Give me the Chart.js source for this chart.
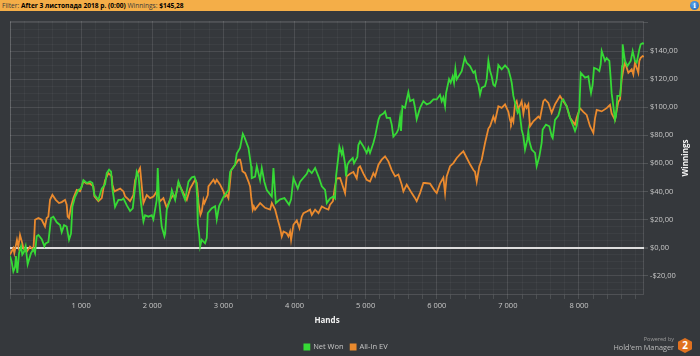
<!DOCTYPE html>
<html><head><meta charset="utf-8">
<script src="https://cdn.jsdelivr.net/npm/chart.js@4"></script>
<style>
html,body{margin:0;padding:0;background:#35383c;width:700px;height:356px;overflow:hidden;font-family:"Open Sans",sans-serif;}
#wrap{position:relative;width:700px;height:356px;}
#chart{position:absolute;left:0;top:0;}
#header{position:absolute;left:0;top:0;width:700px;height:11px;background:#f4ae48;font-size:6.6px;line-height:11px;color:#111;white-space:nowrap;}
#header .t{padding-left:2px;}
#header .n{color:#3a3a3a;font-weight:normal;}
#header b{font-weight:bold;color:#000;}
#info{position:absolute;left:690px;top:1px;width:9px;height:9px;border-radius:50%;background:radial-gradient(circle at 40% 35%,#5aa7ef,#1c5fb0);color:#fff;font:bold 7px/9px "DejaVu Serif",serif;text-align:center;}
#ytitle{position:absolute;left:655px;top:152px;width:60px;height:12px;line-height:12px;text-align:center;color:#f2f2f2;font-weight:bold;font-size:8px;transform:rotate(-90deg);}
#powered{position:absolute;right:26px;top:335px;font-size:5.5px;color:#9a9a9a;}
#hem{position:absolute;right:26px;top:342px;font-size:7.3px;color:#bdbdbd;white-space:nowrap;}
#hex{position:absolute;left:678px;top:338px;width:14px;height:15px;background:#e0711f;clip-path:polygon(50% 0,100% 25%,100% 75%,50% 100%,0 75%,0 25%);color:#fff;font:bold 10px/15px "Open Sans",sans-serif;text-align:center;}
</style></head>
<body><div id="wrap">
<canvas id="chart" width="700" height="356"></canvas>
<div id="header"><span class="t"><span class="n">Filter:</span> <b>After 3 листопада 2018 р. (0:00)</b> <span class="n">Winnings:</span> <b>$145,28</b></span></div>
<div id="info">i</div>
<div id="ytitle">Winnings</div>
<div id="powered">Powered by</div>
<div id="hem">Hold'em Manager</div>
<div id="hex">2</div>
</div>
<script>
const netWonHands = [0,23,47,70,84,103,127,155,173,197,220,248,265,295,330,352,375,400,446,483,502,540,577,610,657,704,727,760,797,830,858,877,914,961,999,1032,1079,1126,1159,1187,1243,1290,1337,1360,1393,1421,1440,1477,1524,1571,1595,1642,1688,1726,1759,1782,1806,1843,1876,1899,1946,1993,2016,2063,2077,2096,2133,2171,2181,2204,2251,2275,2322,2368,2439,2462,2509,2556,2593,2617,2631,2640,2659,2673,2696,2743,2767,2781,2837,2884,2907,2940,3001,3071,3095,3165,3188,3235,3273,3296,3353,3390,3399,3446,3470,3516,3540,3577,3610,3681,3704,3737,3798,3859,3924,3952,3985,4046,4079,4173,4196,4243,4290,4346,4384,4430,4454,4500,4547,4570,4584,4617,4631,4664,4678,4711,4725,4744,4772,4819,4837,4884,4898,4922,4969,5015,5039,5062,5109,5133,5180,5203,5250,5273,5297,5343,5367,5390,5437,5461,5484,5498,5517,5554,5578,5601,5625,5672,5695,5718,5765,5812,5859,5906,5953,6000,6046,6070,6093,6117,6131,6173,6196,6224,6243,6262,6281,6351,6393,6421,6468,6515,6538,6562,6585,6609,6632,6679,6702,6726,6749,6772,6796,6819,6843,6866,6913,6960,7007,7040,7054,7077,7124,7138,7161,7180,7194,7218,7241,7274,7288,7302,7335,7382,7405,7443,7475,7489,7536,7583,7616,7630,7649,7663,7710,7733,7756,7780,7827,7874,7920,7944,7967,7991,8005,8024,8085,8131,8155,8169,8192,8211,8258,8286,8305,8319,8366,8389,8427,8445,8459,8483,8506,8520,8539,8577,8591,8605,8614,8633,8647,8680,8727,8755,8787,8811,8848,8867,8895,8914];
const netWonValues = [-6,-10,-17,-14,-6,-18,-4,1,-5,-3,1,-12,-9,-4,-1,-4,8,9,6,1,3,4,21,22,18,16,11,16,15,5.5,10,29,36,41,42,48,46,47,46,37.6,34,42,45,53,55.5,54,42,29,34,34,35,30,26,28,43,54,51,31,18.6,23,22,23,20,34,56.7,34,15,8,10,27,34,41,34,47,37,34,47,50,50.5,47,36,17,10,0.7,5.5,3,7,24.5,28,29.5,20,29.5,36,41,54,59,67,71,81,78.6,71,58,49.5,50.5,58,48,56.7,46.7,41,36.4,56.7,31.7,34.3,35.2,30.5,34.3,49.5,42,47,52.6,55.5,53,56.7,49.5,43.6,41,31.7,35,36.4,35,50.7,65,72,66.4,70,59.5,50.7,59,61.4,63.8,60,64.5,73,75.7,72,67.4,71,67.4,74.5,79,91,94,95.5,97,92.4,92.4,87.6,79,81.7,84.3,92.6,83,100.7,99.5,105.5,110.7,104.3,105.5,99.5,91.4,99.5,104.3,102,103,105.5,105.5,108.8,104.3,107,100.7,110,120,117.4,122,117.4,127.4,119.8,125.7,135.2,131.6,129.3,124.5,125.7,118.6,116,109,113.8,115,119.8,133,126,122,116,115,119.8,130,127,129.8,127,120.7,117.4,108,98.3,96,98.3,90,84,79.3,69.8,77,83,75.7,69.8,67.4,58,65,74.5,84,87.6,86.4,79.3,78,85,91,94,98.3,104.3,105.5,100.7,92.4,86.4,83,86.4,94.8,98.3,124.5,121,122,114,110,116,128,127,125.7,130.5,140,133,135,133,121,110,100.7,91,93.6,108,108,116,129.3,144.8,137.6,133,129.3,133,140,133,131.7,141,144.8,145.5,145.28];
const allInEvHands = [0,47,61,98,117,141,173,188,235,281,328,342,352,399,446,492,516,539,563,596,643,689,727,774,797,811,830,858,891,938,985,1032,1079,1126,1173,1187,1243,1290,1313,1337,1384,1430,1440,1468,1548,1595,1619,1665,1688,1735,1759,1806,1829,1853,1876,1923,1970,2017,2064,2087,2111,2157,2204,2251,2298,2322,2368,2439,2486,2532,2603,2626,2640,2650,2678,2696,2720,2734,2781,2790,2861,2884,2907,2954,3001,3024,3048,3071,3085,3109,3165,3212,3235,3249,3268,3306,3353,3376,3390,3413,3428,3446,3517,3587,3657,3681,3728,3765,3798,3821,3845,3891,3915,3938,3952,3985,4032,4070,4102,4126,4173,4219,4243,4290,4337,4384,4430,4477,4500,4540,4570,4594,4641,4711,4734,4781,4828,4875,4898,4922,4969,5015,5062,5109,5133,5180,5226,5273,5320,5367,5414,5461,5508,5531,5578,5648,5695,5718,5765,5812,5836,5906,5976,6000,6046,6093,6117,6140,6187,6234,6281,6327,6374,6421,6468,6515,6538,6562,6599,6632,6679,6726,6749,6796,6819,6866,6913,6960,7007,7030,7044,7058,7077,7100,7124,7147,7194,7218,7241,7264,7288,7311,7358,7428,7452,7499,7522,7569,7616,7663,7733,7780,7827,7874,7944,7967,8014,8061,8108,8155,8202,8225,8249,8319,8389,8436,8459,8506,8553,8577,8600,8633,8647,8694,8741,8764,8787,8834,8848,8867,8895,8914];
const allInEvValues = [-5,-0.5,-4,5.5,0.7,9,3,-0.5,-3,0.7,-1.7,9,19.8,21,19.8,15,21,22,34,37.6,34,31.7,32.4,34,30.5,22,21,29.3,35.2,41,40,47,45.5,45.5,43.6,36.4,33,35.2,42,48,53,50.7,44.8,40,42,40,36.4,34.3,33,37.4,48,54.3,56.7,43.6,31.7,37.4,35.2,36.4,40,36.4,33,35.2,28.3,34.3,37.6,35.2,46,38.8,34,42,48.3,46,38.8,31.7,23.3,25.7,34,31.7,37.4,43.6,48.3,46,48.3,44.8,40,36.4,37.6,35.2,42,55,59,62.6,62.6,60,54.3,53,47,43.6,36.4,27,29.3,27,31.7,28.3,27,31.7,27,19.8,13.8,7.9,11.4,10.2,7.9,11.4,5.5,16.2,19.3,13.8,22,24.5,25.7,27,23.3,27,24.5,29.3,28,27,30.5,33,44,49.3,49.5,38.8,50.7,52.6,53.8,49.3,56.7,57.9,52.6,48.3,47,53,50.7,59,62.6,65,61.4,55.2,50.7,52,44.8,40,44.8,38.8,35.2,33,38.8,46,46,45.5,40.2,38.8,45.5,49.8,38.8,50.7,58,60.2,63.8,66.4,68.6,64,59.3,55.2,54,47,58,62.6,74.5,84.8,86.4,93.3,90,100.7,99.5,102,96.7,91,88.8,92,89.5,102,104.3,98.3,104.3,95.5,102,99.5,102,86.4,90,93.3,92,104.3,105.5,103,96,102,108,104.3,100.7,92.4,87.6,92.4,99.3,96.7,94.5,86.4,81.7,92,98,97,99.3,101.7,95.5,91,104,105.5,119.8,129.3,131.7,124.5,127,123.3,131.7,124.5,133,135.2,136.4,136];
const xLabelValues = [1000,2000,3000,4000,5000,6000,7000,8000];
const yLabelValues = [-20,0,20,40,60,80,100,120,140];

const toPoints = (hs, vs) => hs.map((h, i) => ({x: h, y: vs[i]}));
const fmtX = v => String(v).replace(/\B(?=(\d{3})+(?!\d))/g, ' ');
const fmtY = v => (v < 0 ? '-$' : '$') + Math.abs(v).toFixed(2).replace('.', ',');

const frame = {
  id: 'frame',
  beforeDatasetsDraw(chart) {
    const a = chart.chartArea, c = chart.ctx;
    c.save();
    c.strokeStyle = 'rgba(255,255,255,0.13)';
    c.lineWidth = 1;
    c.strokeRect(Math.round(a.left) + 0.5, Math.round(a.top) + 0.5, Math.round(a.right - a.left) - 1, Math.round(a.bottom - a.top) - 1);
    c.restore();
  }
};

new Chart(document.getElementById('chart'), {
  type: 'line',
  data: {
    datasets: [
      {label: 'Net Won', data: toPoints(netWonHands, netWonValues), borderColor: '#36d936', backgroundColor: '#36d936', borderWidth: 1.8, pointRadius: 0, tension: 0},
      {label: 'All-In EV', data: toPoints(allInEvHands, allInEvValues), borderColor: '#ea8a2e', backgroundColor: '#ea8a2e', borderWidth: 1.8, pointRadius: 0, tension: 0}
    ]
  },
  options: {
    responsive: false,
    animation: false,
    layout: {padding: {left: 10, top: 21, right: 18, bottom: 0}},
    plugins: {
      tooltip: {enabled: false},
      legend: {
        position: 'bottom',
        maxHeight: 19.75,
        labels: {boxWidth: 5, boxHeight: 5, padding: 7, color: '#c8c8c8', font: {family: 'Open Sans', size: 7.5}}
      }
    },
    scales: {
      x: {
        type: 'linear', position: 'bottom', min: 0, max: 8914,
        afterFit: s => { s.height = 41.25; },
        border: {display: false},
        grid: {
          color: c => (c.tick && c.tick.value % 1000 === 0) ? 'rgba(255,255,255,0.11)' : 'rgba(255,255,255,0.04)',
          tickColor: 'rgba(255,255,255,0.12)', tickLength: 4, lineWidth: 1
        },
        ticks: {
          stepSize: 200, includeBounds: false, autoSkip: false, maxRotation: 0, padding: 2.5,
          color: '#c8c8c8', font: {family: 'Open Sans', size: 7.5},
          callback: v => xLabelValues.includes(v) ? fmtX(v) : ''
        },
        title: {display: true, text: 'Hands', color: '#f2f2f2', font: {family: 'Open Sans', size: 8, weight: 'bold'}, padding: {top: 0, bottom: 10.45}}
      },
      y: {
        type: 'linear', position: 'right', min: -33.8, max: 161.4,
        afterFit: s => { s.width = 38; },
        border: {display: false},
        grid: {
          color: c => { const v = c.tick ? c.tick.value : 1; return v === 0 ? '#dedede' : (v % 20 === 0 ? 'rgba(255,255,255,0.11)' : 'rgba(255,255,255,0.04)'); },
          lineWidth: c => (c.tick && c.tick.value === 0) ? 2 : 1,
          tickColor: c => (c.tick && c.tick.value % 20 === 0) ? 'rgba(255,255,255,0.14)' : 'rgba(0,0,0,0)',
          tickLength: 4
        },
        ticks: {
          stepSize: 5, includeBounds: false, autoSkip: false, padding: 2,
          color: '#c8c8c8', font: {family: 'Open Sans', size: 7.5},
          callback: v => yLabelValues.includes(v) ? fmtY(v) : ''
        }
      }
    }
  },
  plugins: [frame]
});
</script>
</body></html>
